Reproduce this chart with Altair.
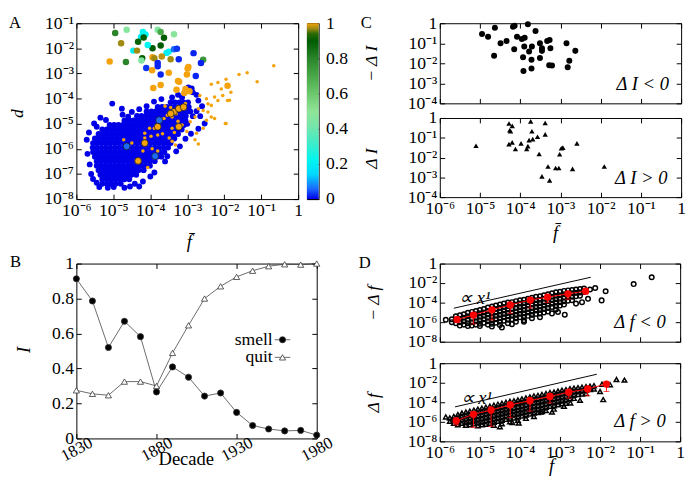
import altair as alt
import pandas as pd

FONT = "Liberation Serif"
SUPS = ['10⁻⁸', '10⁻⁷', '10⁻⁶', '10⁻⁵', '10⁻⁴', '10⁻³', '10⁻²', '10⁻¹', '1']
EXPR = "[" + ",".join("'%s'" % s for s in SUPS) + "][round(log(datum.value)/LN10)+8]"
XDEC = [1e-6, 1e-5, 1e-4, 1e-3, 1e-2, 1e-1, 1]
AY = [1e-8, 1e-7, 1e-6, 1e-5, 1e-4, 1e-3, 1e-2, 1e-1]
CY = [1e-4, 1e-3, 1e-2, 1e-1, 1]
DY = [1e-8, 1e-6, 1e-4, 1e-2, 1]

# ---------------- Panel A : log10(f-bar), log10(d) ----------------
A_core_rows = [
    (-4.15, [-3.45, -3.33, -3.21, -3.10, -2.98]),
    (-4.33, [-3.80, -3.68, -3.56, -3.45, -3.32, -3.20, -3.08, -2.96]),
    (-4.51, [-4.10, -3.97, -3.86, -3.74, -3.62, -3.50, -3.38, -3.26, -3.14, -3.02, -2.92]),
    (-4.69, [-4.36, -4.24, -4.12, -4.00, -3.88, -3.76, -3.64, -3.52, -3.40, -3.28, -3.16, -3.04]),
    (-4.87, [-4.70, -4.58, -4.46, -4.34, -4.22, -4.10, -3.98, -3.86, -3.74, -3.62, -3.50, -3.38, -3.26, -3.14, -3.05]),
    (-5.05, [-5.10, -4.98, -4.86, -4.74, -4.62, -4.50, -4.38, -4.26, -4.14, -4.02, -3.90, -3.78, -3.66, -3.54, -3.42, -3.30, -3.18, -3.09]),
    (-5.23, [-5.30, -5.18, -5.06, -4.94, -4.82, -4.70, -4.58, -4.46, -4.34, -4.22, -4.10, -3.98, -3.86, -3.74, -3.62, -3.50, -3.38, -3.26, -3.15]),
    (-5.41, [-5.40, -5.28, -5.16, -5.04, -4.92, -4.80, -4.68, -4.56, -4.44, -4.32, -4.20, -4.08, -3.96, -3.84, -3.72, -3.60, -3.48, -3.36, -3.25]),
    (-5.59, [-5.50, -5.38, -5.26, -5.14, -5.02, -4.90, -4.78, -4.66, -4.54, -4.42, -4.30, -4.18, -4.06, -3.94, -3.82, -3.70, -3.58, -3.46, -3.35]),
    (-5.77, [-5.55, -5.44, -5.32, -5.20, -5.08, -4.96, -4.84, -4.72, -4.60, -4.48, -4.36, -4.24, -4.12, -4.00, -3.88, -3.76, -3.64, -3.52, -3.45]),
    (-5.95, [-5.56, -5.44, -5.32, -5.20, -5.08, -4.96, -4.84, -4.72, -4.60, -4.48, -4.36, -4.24, -4.12, -4.00, -3.88, -3.76, -3.64, -3.52]),
    (-6.13, [-5.55, -5.43, -5.31, -5.19, -5.07, -4.95, -4.83, -4.71, -4.59, -4.47, -4.35, -4.23, -4.11, -3.99, -3.87, -3.75, -3.62]),
    (-6.31, [-5.50, -5.38, -5.26, -5.14, -5.02, -4.90, -4.78, -4.66, -4.54, -4.42, -4.30, -4.18, -4.06, -3.94, -3.82, -3.70]),
    (-6.49, [-5.45, -5.33, -5.21, -5.09, -4.97, -4.85, -4.73, -4.61, -4.49, -4.37, -4.25, -4.13, -4.01, -3.88]),
    (-6.67, [-5.45, -5.33, -5.21, -5.09, -4.97, -4.85, -4.73, -4.61, -4.49, -4.37, -4.25, -4.13, -4.01]),
    (-6.85, [-5.40, -5.28, -5.16, -5.04, -4.92, -4.80, -4.68, -4.56, -4.44, -4.32, -4.18]),
    (-7.03, [-5.35, -5.23, -5.11, -4.99, -4.87, -4.75, -4.63, -4.51, -4.38]),
    (-7.21, [-5.30, -5.18, -5.06, -4.94, -4.82, -4.70, -4.57]),
    (-7.39, [-5.30, -5.18, -5.06, -4.94, -4.80]),
]
A_halo = [(-5.72, -5.64), (-5.66, -5.35), (-5.70, -6.20), (-5.64, -6.62), (-5.60, -7.00), (-5.52, -4.99),
          (-5.45, -5.12), (-5.35, -4.76), (-5.20, -4.85), (-5.03, -4.20), (-4.77, -4.40), (-4.50, -4.53),
          (-4.75, -4.64), (-4.60, -4.72), (-4.30, -4.42), (-4.10, -4.30), (-3.90, -4.12), (-3.70, -4.02),
          (-3.41, -3.95), (-3.14, -3.95), (-2.97, -3.56), (-2.85, -3.75), (-2.75, -3.85), (-2.70, -4.08),
          (-2.60, -4.30), (-2.75, -4.50), (-2.85, -4.70), (-2.53, -4.99), (-2.70, -5.20), (-2.90, -5.40),
          (-3.05, -5.60), (-3.20, -5.90), (-3.30, -6.10), (-3.54, -6.29), (-3.60, -6.50), (-3.89, -6.94),
          (-4.00, -7.10), (-4.20, -7.30), (-4.42, -7.39), (-4.30, -7.50), (-4.55, -7.50), (-4.70, -7.55),
          (-4.99, -7.52), (-5.15, -7.55), (-5.38, -7.52), (-5.45, -7.35), (-5.55, -7.20), (-2.88, -3.60),
          (-3.25, -3.85), (-2.65, -4.70), (-3.00, -5.00)]
A_orange_small = [(-0.66, -2.69), (-1.11, -3.33), (-1.38, -2.97), (-1.60, -3.04), (-1.95, -3.23), (-2.17, -3.36),
                  (-1.82, -3.75), (-1.86, -4.07), (-2.08, -3.62), (-2.04, -3.88), (-2.35, -3.43), (-2.26, -3.94),
                  (-2.66, -3.88), (-2.48, -4.01), (-2.44, -4.21), (-2.35, -4.27), (-2.17, -4.08), (-1.91, -4.08),
                  (-2.70, -4.40), (-2.57, -4.47), (-2.44, -4.53), (-2.35, -4.73), (-2.26, -4.79), (-1.95, -4.99),
                  (-2.79, -4.73), (-2.75, -5.38), (-2.79, -5.64), (-2.70, -5.81), (-3.01, -5.31), (-3.14, -5.05),
                  (-2.92, -4.92), (-2.48, -4.86), (-2.57, -5.18), (-1.97, -4.99),
                  (-4.72, -5.64), (-4.50, -5.77), (-4.15, -5.38), (-4.02, -5.18), (-3.89, -5.18), (-3.76, -5.13),
                  (-3.63, -4.79), (-3.54, -4.66), (-3.41, -4.73), (-4.15, -5.57), (-3.98, -5.50), (-3.80, -5.45),
                  (-3.67, -5.40), (-3.49, -5.57), (-3.41, -5.70), (-3.32, -5.85), (-3.80, -6.09), (-4.20, -6.09),
                  (-3.95, -6.00), (-4.07, -6.74), (-3.41, -5.18), (-3.25, -4.90), (-3.30, -4.60), (-3.20, -4.45),
                  (-3.45, -4.35), (-3.60, -4.30), (-3.05, -4.20), (-3.35, -5.35)]
A_big = [(-4.95, -1.39, 0.80), (-4.64, -1.26, 0.47), (-4.20, -1.35, 0.22), (-4.13, -1.45, 0.22), (-4.25, -1.55, 0.20),
         (-3.80, -1.26, 0.45), (-3.72, -1.35, 0.70), (-3.36, -1.44, 0.48), (-4.79, -1.80, 0.97), (-4.33, -1.74, 0.88),
         (-4.18, -1.57, 0.90), (-3.63, -1.58, 0.90), (-3.94, -2.00, 0.90), (-3.72, -1.89, 0.90), (-4.07, -1.87, 0.22),
         (-4.46, -2.09, 0.20), (-4.36, -2.09, 0.97), (-3.50, -2.13, 0.22), (-3.56, -2.18, 0.20), (-3.36, -2.04, 0.06),
         (-3.28, -2.02, 0.03), (-4.22, -2.39, 0.90), (-4.24, -2.48, 0.45), (-3.94, -2.35, 1.00), (-3.89, -2.39, 0.97),
         (-3.69, -2.32, 0.98), (-3.45, -2.43, 0.97), (-3.23, -2.43, 0.02), (-2.83, -2.19, 0.02), (-2.57, -2.45, 0.75),
         (-2.63, -2.58, 0.02), (-5.10, -2.52, 1.00), (-4.66, -2.54, 0.80), (-4.11, -2.78, 0.03), (-3.80, -2.58, 0.02),
         (-3.80, -2.71, 0.02), (-3.95, -2.87, 1.00), (-3.72, -3.04, 0.02), (-3.50, -2.97, 1.00), (-2.97, -2.74, 1.00),
         (-2.99, -2.80, 1.00), (-3.01, -3.04, 1.00), (-2.77, -3.10, 0.02), (-3.25, -3.30, 1.00), (-3.22, -3.33, 1.00),
         (-3.72, -3.46, 1.00), (-3.92, -3.58, 1.00), (-3.29, -3.65, 1.00), (-3.05, -3.62, 1.00), (-3.08, -3.78, 1.00),
         (-2.94, -3.71, 1.00), (-1.91, -3.49, 1.00)]
A_ring = [(-3.36, -4.53, 1.0), (-3.23, -4.40, 1.0), (-3.10, -4.34, 1.0), (-3.45, -4.60, 1.0), (-3.80, -5.12, 1.0),
          (-3.23, -5.12, 1.0), (-4.15, -5.77, 1.0), (-4.33, -6.48, 1.0),
          (-4.64, -5.90, 0.06), (-3.76, -4.86, 0.06), (-3.87, -6.29, 0.06)]

CSTOPS = [0.0, 0.06, 0.14, 0.22, 0.32, 0.42, 0.5, 0.6, 0.7, 0.8, 0.9, 0.94, 0.97, 1.0]
CCOLS = ['#0000e8', '#1a6cff', '#00d8ff', '#00f5f0', '#40ecc8', '#78e6a8', '#90e498', '#6cc86c',
         '#48a848', '#2a842a', '#005c00', '#2a6a05', '#a08a10', '#f4a30c']
CB_LABELS = [0, 0.2, 0.4, 0.6, 0.8, 1]

# ---------------- Panel B ----------------
decades = [1830, 1840, 1850, 1860, 1870, 1880, 1890, 1900, 1910, 1920, 1930, 1940, 1950, 1960, 1970, 1980]
smell = [0.913, 0.786, 0.52, 0.67, 0.582, 0.266, 0.409, 0.35, 0.242, 0.26, 0.149, 0.074, 0.054, 0.043, 0.046, 0.019]
quit = [0.275, 0.255, 0.247, 0.325, 0.325, 0.30, 0.489, 0.647, 0.80, 0.87, 0.924, 0.959, 0.985, 0.996, 0.994, 1.0]
B_legend = [("smell", "circle", "black"), ("quit", "triangle-up", "white")]

# ---------------- Panel C : log10(f-bar), log10(|dI|) ----------------
C_neg = [(-4.95, -0.54), (-4.80, -0.67), (-4.63, -0.23), (-4.65, -1.62), (-4.49, -1.00), (-4.34, -0.89),
         (-4.18, -0.18), (-4.14, -0.13), (-4.15, -1.30), (-4.08, -0.67), (-3.96, -0.79), (-3.89, -0.72),
         (-3.93, -1.70), (-3.92, -2.39), (-3.90, -1.16), (-3.81, -0.05), (-3.78, -1.41), (-3.72, -1.82),
         (-3.71, -1.16), (-3.72, -2.26), (-3.62, -0.39), (-3.51, -1.74), (-3.51, -1.00), (-3.46, -1.25),
         (-3.46, -1.38), (-3.33, -0.89), (-3.27, -0.84), (-3.25, -1.25), (-3.28, -2.10), (-3.21, -2.11),
         (-2.85, -1.00), (-2.78, -1.87), (-2.82, -2.20), (-2.63, -1.38)]
C_pos = [(-5.10, -1.40), (-4.28, -0.28), (-4.20, -0.40), (-4.26, -0.62), (-4.24, -0.67), (-4.28, -1.32),
         (-4.20, -1.23), (-4.12, -1.57), (-3.98, -1.28), (-3.84, -1.57), (-3.81, -1.42), (-3.78, -1.12),
         (-3.74, -0.17), (-3.71, -0.67), (-3.69, -1.07), (-3.57, -0.95), (-3.53, -1.82), (-3.38, -0.25),
         (-3.38, -0.83), (-3.31, -2.45), (-3.46, -2.95), (-3.27, -3.15), (-3.12, -2.53), (-3.04, -2.53),
         (-3.02, -1.83), (-2.98, -1.53), (-2.94, -1.50), (-2.70, -2.57), (-2.59, -1.28), (-1.91, -2.45)]
C_notes = [("Δ I < 0", -0.30, -3.02), ("Δ I > 0", -0.34, -3.03)]

# ---------------- Panel D : log10(f-bar), log10(|df|) ----------------
D_neg_cols = [
    (-5.70, [-5.70, -6.00]), (-5.60, [-5.40, -5.75, -6.10]), (-5.50, [-5.30, -5.65, -6.00, -6.35]),
    (-5.40, [-5.20, -5.55, -5.90, -6.25]), (-5.30, [-5.05, -5.40, -5.75, -6.10, -6.40]),
    (-5.20, [-4.95, -5.30, -5.65, -6.00, -6.35]), (-5.10, [-4.85, -5.20, -5.55, -5.90, -6.25]),
    (-5.00, [-4.75, -5.10, -5.45, -5.80, -6.15, -6.40]), (-4.90, [-4.65, -5.00, -5.35, -5.70, -6.05]),
    (-4.80, [-4.50, -4.85, -5.20, -5.55, -5.90, -6.25]), (-4.70, [-4.40, -4.75, -5.10, -5.45, -5.80, -6.15]),
    (-4.60, [-4.30, -4.65, -5.00, -5.35, -5.70, -6.05]), (-4.50, [-4.20, -4.55, -4.90, -5.25, -5.60, -5.95, -6.30]),
    (-4.40, [-4.10, -4.45, -4.80, -5.15, -5.50, -5.85]), (-4.30, [-4.00, -4.35, -4.70, -5.05, -5.40, -5.75, -6.10]),
    (-4.20, [-3.95, -4.30, -4.65, -5.00, -5.35, -5.70]), (-4.10, [-3.85, -4.20, -4.55, -4.90, -5.25, -5.60, -5.95]),
    (-4.00, [-3.75, -4.10, -4.45, -4.80, -5.15, -5.50]), (-3.90, [-3.70, -4.05, -4.40, -4.75, -5.10, -5.45, -5.80]),
    (-3.80, [-3.60, -3.95, -4.30, -4.65, -5.00, -5.35]), (-3.70, [-3.50, -3.85, -4.20, -4.55, -4.90, -5.25, -5.60]),
    (-3.60, [-3.40, -3.75, -4.10, -4.45, -4.80, -5.15]), (-3.50, [-3.35, -3.70, -4.05, -4.40, -4.75, -5.10]),
    (-3.40, [-3.25, -3.60, -3.95, -4.30, -4.65, -5.00]), (-3.30, [-3.15, -3.50, -3.85, -4.20, -4.55, -4.90]),
    (-3.20, [-3.05, -3.40, -3.75, -4.10, -4.45]), (-3.10, [-2.95, -3.30, -3.65, -4.00, -4.35, -4.70]),
    (-3.00, [-2.90, -3.25, -3.60, -3.95, -4.30]), (-2.90, [-2.80, -3.15, -3.50, -3.85, -4.20]),
    (-2.80, [-2.75, -3.10, -3.45, -3.80]), (-2.70, [-2.70, -3.05, -3.40, -3.75]),
    (-2.60, [-2.65, -3.00, -3.35]), (-2.50, [-2.60, -2.95, -3.30]), (-2.40, [-2.55, -2.90]),
]
D_neg_out = [(-2.12, -2.50), (-1.86, -2.83), (-1.96, -3.77), (-2.88, -5.23), (-1.16, -2.10), (-0.71, -1.40),
             (-2.30, -3.60), (-3.20, -5.10), (-3.90, -5.95), (-4.20, -6.20), (-4.70, -6.45), (-3.50, -5.50),
             (-2.60, -4.10), (-5.85, -5.75), (-2.25, -2.65), (-2.45, -3.95), (-3.05, -4.95), (-4.45, -6.55)]
D_neg_mean = [(-5.57, -5.73), (-5.16, -5.27), (-4.70, -4.73), (-4.24, -4.23), (-3.74, -3.73), (-3.31, -3.43),
              (-2.80, -3.10), (-2.36, -2.83)]
D_neg_lo = [-6.00, -6.17, -5.77, -5.10, -4.55, -4.00, -3.65, -3.10]
D_neg_hi = [-5.45, -5.00, -4.50, -4.00, -3.50, -3.20, -2.90, -2.60]
D_neg_fit = [(-5.65, -4.57), (-2.23, -1.40)]

D_pos_cols = [
    (-5.75, [-5.60, -5.95]), (-5.65, [-5.45, -5.80, -6.15]), (-5.55, [-5.25, -5.60, -5.95, -6.30]),
    (-5.45, [-5.10, -5.45, -5.80, -6.15]), (-5.35, [-5.00, -5.35, -5.70, -6.05, -6.35]),
    (-5.25, [-4.90, -5.25, -5.60, -5.95, -6.30]), (-5.15, [-4.80, -5.15, -5.50, -5.85, -6.20]),
    (-5.05, [-4.70, -5.05, -5.40, -5.75, -6.10, -6.40]), (-4.95, [-4.60, -4.95, -5.30, -5.65, -6.00, -6.30]),
    (-4.85, [-4.50, -4.85, -5.20, -5.55, -5.90, -6.25]), (-4.75, [-4.40, -4.75, -5.10, -5.45, -5.80, -6.15]),
    (-4.65, [-4.30, -4.65, -5.00, -5.35, -5.70, -6.05, -6.35]), (-4.55, [-4.20, -4.55, -4.90, -5.25, -5.60, -5.95]),
    (-4.45, [-4.10, -4.45, -4.80, -5.15, -5.50, -5.85, -6.20]), (-4.35, [-4.00, -4.35, -4.70, -5.05, -5.40, -5.75]),
    (-4.25, [-3.90, -4.25, -4.60, -4.95, -5.30, -5.65, -6.00]), (-4.15, [-3.85, -4.20, -4.55, -4.90, -5.25, -5.60]),
    (-4.05, [-3.75, -4.10, -4.45, -4.80, -5.15, -5.50, -5.85]), (-3.95, [-3.65, -4.00, -4.35, -4.70, -5.05, -5.40]),
    (-3.85, [-3.55, -3.90, -4.25, -4.60, -4.95, -5.30, -5.65]), (-3.75, [-3.45, -3.80, -4.15, -4.50, -4.85, -5.20]),
    (-3.65, [-3.35, -3.70, -4.05, -4.40, -4.75, -5.10, -5.45]), (-3.55, [-3.30, -3.65, -4.00, -4.35, -4.70, -5.05]),
    (-3.45, [-3.20, -3.55, -3.90, -4.25, -4.60, -4.95]), (-3.35, [-3.10, -3.45, -3.80, -4.15, -4.50, -4.85]),
    (-3.25, [-3.00, -3.35, -3.70, -4.05, -4.40]), (-3.15, [-2.95, -3.30, -3.65, -4.00, -4.35, -4.70]),
    (-3.05, [-2.85, -3.20, -3.55, -3.90, -4.25]), (-2.95, [-2.75, -3.10, -3.45, -3.80, -4.15]),
    (-2.85, [-2.70, -3.05, -3.40, -3.75, -4.10]), (-2.75, [-2.60, -2.95, -3.30, -3.65]),
    (-2.65, [-2.55, -2.90, -3.25, -3.60]), (-2.55, [-2.50, -2.85, -3.20]), (-2.45, [-2.45, -2.80, -3.15]),
    (-2.35, [-2.40, -2.75, -3.10]), (-2.25, [-2.35, -2.70]), (-2.15, [-2.30, -2.65]),
]
D_pos_out = [(-1.39, -1.73), (-1.59, -1.67), (-1.92, -3.73), (-2.74, -4.07), (-2.90, -4.40), (-3.48, -5.00),
             (-4.03, -6.13), (-4.19, -6.07), (-1.75, -2.20), (-2.00, -2.90), (-2.50, -3.80), (-3.20, -5.00),
             (-4.50, -6.50), (-5.85, -5.50), (-1.95, -2.15)]
D_pos_mean = [(-5.59, -5.90), (-5.16, -5.23), (-4.72, -4.80), (-4.24, -4.27), (-3.75, -3.83), (-3.25, -3.40),
              (-2.78, -2.97), (-2.31, -2.63), (-1.84, -2.13)]
D_pos_lo = [-6.33, -6.57, -6.47, -5.57, -4.90, -4.07, -3.57, -3.33, -2.90]
D_pos_hi = [-5.60, -4.95, -4.50, -4.00, -3.55, -3.15, -2.75, -2.40, -1.90]
D_pos_fit = [(-5.62, -4.47), (-2.08, -1.13)]
D_notes = [("∝ x¹", -5.52, -3.50, "Δ f < 0", -0.36, -6.00), ("∝ x¹", -5.48, -3.57, "Δ f > 0", -0.36, -5.90)]


# ---------------- helpers ----------------
def pairs_df(pairs, cols=('lx', 'ly')):
    d = pd.DataFrame(pairs, columns=list(cols))
    d['f'] = 10 ** d['lx']
    d['y'] = 10 ** d['ly']
    return d


def note_df(t, lx, ly):
    return pd.DataFrame({'t': [t], 'f': [10 ** lx], 'y': [10 ** ly]})


def main_axis(values, labels=True, title=None, tx=None, ty=None, size=18):
    kw = dict(values=values, labels=labels, labelExpr=EXPR)
    if title is None:
        kw['title'] = None
    else:
        kw.update(title=title, titleX=tx, titleY=ty, titleAlign='center', titleBaseline='middle',
                  titleFontStyle='italic', titleFontSize=size)
    return alt.Axis(**kw)


def mirror_axis(orient, values):
    return alt.Axis(orient=orient, values=values, labels=False, title=None)


XS = alt.Scale(type='log', domain=[1e-6, 1], nice=False)


def logscale(lo, hi):
    return alt.Scale(type='log', domain=[lo, hi], nice=False)


def text_px(t, x, y, size=17, color='black', style='normal', align='left', baseline='top'):
    return alt.Chart(pd.DataFrame({'t': [t]})).mark_text(
        text=t, align=align, baseline=baseline, font=FONT, fontSize=size, color=color, fontStyle=style
    ).encode(x=alt.value(x), y=alt.value(y))


def anchor(x, y):
    # tiny white square fixing the top-left extent of a panel so that all panels line up
    return alt.Chart(pd.DataFrame({'t': [0]})).mark_square(size=1, color='white', opacity=1).encode(
        x=alt.value(x + 0.5), y=alt.value(y + 0.5))


# ---------------- Panel A ----------------
core = [(lx, ly) for ly, xs in A_core_rows for lx in xs]
dA_blue = pairs_df(core + A_halo); dA_blue['v'] = 0.0
dA_os = pairs_df(A_orange_small); dA_os['v'] = 1.0
dA_big = pairs_df(A_big, ('lx', 'ly', 'v'))
dA_ring = pairs_df(A_ring, ('lx', 'ly', 'v'))

cscale = alt.Scale(domain=CSTOPS, range=CCOLS, interpolate='rgb')
YSA = logscale(1e-8, 1e-1)
colA = alt.Color('v:Q', scale=cscale, legend=None)
xA0 = alt.X('f:Q', scale=XS, axis=main_axis(XDEC, True, 'f\u0304', 115, 49, 19))
yA0 = alt.Y('y:Q', scale=YSA, axis=main_axis(AY, True, 'd', -65, 92))
xAn = alt.X('f:Q', scale=XS, axis=None)
yAn = alt.Y('y:Q', scale=YSA, axis=None)

A = alt.layer(
    alt.Chart(dA_blue).mark_circle(size=36, opacity=1).encode(x=xA0, y=yA0, color=colA),
    alt.Chart(dA_os).mark_circle(size=13, opacity=1).encode(x=xAn, y=yAn, color=colA),
    alt.Chart(dA_big).mark_circle(size=44, opacity=1).encode(x=xAn, y=yAn, color=colA),
    alt.Chart(dA_ring).mark_circle(size=48, opacity=1, stroke='#222', strokeWidth=0.8).encode(x=xAn, y=yAn, color=colA),
    alt.Chart(dA_ring).mark_point(opacity=0).encode(
        x=alt.X('f:Q', scale=XS, axis=mirror_axis('top', XDEC)),
        y=alt.Y('y:Q', scale=YSA, axis=mirror_axis('right', AY))),
    anchor(-69, -9),
    text_px('A', -69, -8),
).resolve_axis(x='independent', y='independent').properties(width=227, height=180)

CB = alt.Chart(pd.DataFrame({'lo': [0.0], 'hi': [1.0]})).mark_rect(
    color=alt.Gradient(gradient='linear', x1=0, x2=0, y1=1, y2=0,
                       stops=[alt.GradientStop(offset=o, color=c) for o, c in zip(CSTOPS, CCOLS)])
).encode(
    y=alt.Y('lo:Q', scale=alt.Scale(domain=[0, 1], nice=False),
            axis=alt.Axis(orient='right', values=CB_LABELS, format='~g', offset=-12, tickSize=12,
                          labelPadding=7, labelFontSize=18, title=None)),
    y2='hi:Q', x=alt.value(0), x2=alt.value(12)
).properties(width=12, height=180)

# ---------------- Panel B ----------------
dB = pd.DataFrame({'year': decades * 2, 'I': smell + quit, 'series': ['smell'] * 16 + ['quit'] * 16})
XSB = alt.Scale(domain=[1830, 1980], nice=False)
YSB = alt.Scale(domain=[0, 1], nice=False)
xB0 = alt.X('year:Q', scale=XSB,
            axis=alt.Axis(values=[1830, 1880, 1930, 1980], format='d', labelAngle=-28, labelAlign='center',
                          labelBaseline='middle', labelPadding=11, labelFontSize=17, title='Decade', titleX=112,
                          titleY=26, titleAlign='center', titleBaseline='middle', titleFontSize=19))
yB0 = alt.Y('I:Q', scale=YSB,
            axis=alt.Axis(values=[0, 0.2, 0.4, 0.6, 0.8, 1], format='~g', labelFontSize=18, title='I',
                          titleX=-59, titleY=88, titleAlign='center', titleBaseline='middle',
                          titleFontStyle='italic', titleFontSize=19))
xBn = alt.X('year:Q', scale=XSB, axis=None)
yBn = alt.Y('I:Q', scale=YSB, axis=None)
shapeB = alt.Shape('series:N', scale=alt.Scale(domain=['smell', 'quit'], range=['circle', 'triangle-up']), legend=None)
fillB = alt.Fill('series:N', scale=alt.Scale(domain=['smell', 'quit'], range=['black', 'white']), legend=None)

leg_layers = []
for i, (lab, shp, fil) in enumerate(B_legend):
    yy = 78 + 18 * i
    leg_layers.append(text_px(lab, 201, yy, 18, align='right', baseline='middle'))
    leg_layers.append(alt.Chart(pd.DataFrame({'t': [lab]})).mark_rule(color='#444', strokeWidth=0.8).encode(
        x=alt.value(203), x2=alt.value(219), y=alt.value(yy)))
    leg_layers.append(alt.Chart(pd.DataFrame({'t': [lab]})).mark_point(
        shape=shp, filled=True, fill=fil, size=40, stroke='#333', strokeWidth=0.8, opacity=1).encode(
        x=alt.value(211), y=alt.value(yy)))

B = alt.layer(
    alt.Chart(dB).mark_line(color='#444', strokeWidth=0.8).encode(x=xB0, y=yB0, detail='series:N'),
    alt.Chart(dB).mark_point(filled=True, size=40, stroke='#333', strokeWidth=0.8, opacity=1).encode(
        x=xBn, y=yBn, shape=shapeB, fill=fillB),
    alt.Chart(dB).mark_point(opacity=0).encode(
        x=alt.X('year:Q', scale=XSB, axis=alt.Axis(orient='top', values=[1830, 1880, 1930, 1980], labels=False, title=None)),
        y=alt.Y('I:Q', scale=YSB, axis=alt.Axis(orient='right', values=[0, 0.2, 0.4, 0.6, 0.8, 1], labels=False, title=None))),
    *leg_layers,
    anchor(-68, -10),
    text_px('B', -68, -9),
).resolve_axis(x='independent', y='independent').properties(width=246, height=179)


# ---------------- Panel C ----------------
def c_panel(pts, shape, size, ytitle, note, xlabels, anchor_y, letter=None, xtitle=None):
    ys = logscale(1e-4, 1)
    x0 = alt.X('f:Q', scale=XS, axis=main_axis(XDEC, xlabels, xtitle, 118, 41, 19))
    y0 = alt.Y('y:Q', scale=ys, axis=main_axis(CY, True, ytitle, -75, 41))
    xn = alt.X('f:Q', scale=XS, axis=None)
    yn = alt.Y('y:Q', scale=ys, axis=None)
    dpts = pairs_df(pts)
    layers = [
        alt.Chart(dpts).mark_point(shape=shape, filled=True, size=size, color='black', opacity=1).encode(x=x0, y=y0),
        alt.Chart(dpts).mark_point(opacity=0).encode(
            x=alt.X('f:Q', scale=XS, axis=mirror_axis('top', XDEC)),
            y=alt.Y('y:Q', scale=ys, axis=mirror_axis('right', CY))),
        alt.Chart(note_df(*note)).mark_text(align='right', baseline='middle', font=FONT, fontSize=19,
                                            fontStyle='italic').encode(x=xn, y=yn, text='t:N'),
        anchor(-81, anchor_y),
    ]
    if letter:
        layers.append(text_px(letter, -81, -8))
    return alt.layer(*layers).resolve_axis(x='independent', y='independent')


C1 = c_panel(C_neg, 'circle', 38, '− Δ I', C_notes[0], False, -9, 'C').properties(width=247, height=82)
C2 = c_panel(C_pos, 'triangle-up', 30, 'Δ I', C_notes[1], True, -9, None, 'f\u0304').properties(width=247, height=81)


# ---------------- Panel D ----------------
def d_panel(cols, out, mean, lo, hi, fit, notes, shape, ytitle, xlabels, anchor_y, letter=None, xtitle=None):
    ys = logscale(1e-8, 1)
    x0 = alt.X('f:Q', scale=XS, axis=main_axis(XDEC, xlabels, xtitle, 114, 30, 19))
    y0 = alt.Y('y:Q', scale=ys, axis=main_axis(DY, True, ytitle, -73, 40))
    xn = alt.X('f:Q', scale=XS, axis=None)
    yn = alt.Y('y:Q', scale=ys, axis=None)
    cloud = pairs_df([(lx, ly) for lx, lys in cols for ly in lys] + out)
    dm = pairs_df(mean)
    de = pd.DataFrame({'f': [10 ** m[0] for m in mean], 'y': [10 ** v for v in lo], 'y2': [10 ** v for v in hi]})
    dcap = pd.DataFrame({'f': [10 ** m[0] for m in mean] * 2, 'y': [10 ** v for v in lo] + [10 ** v for v in hi]})
    dfit = pairs_df(fit)
    layers = [
        alt.Chart(cloud).mark_point(shape=shape, filled=False, size=22, strokeWidth=1.5, color='black', opacity=1).encode(x=x0, y=y0),
        alt.Chart(cloud).mark_point(opacity=0).encode(
            x=alt.X('f:Q', scale=XS, axis=mirror_axis('top', XDEC)),
            y=alt.Y('y:Q', scale=ys, axis=mirror_axis('right', DY))),
        alt.Chart(dfit).mark_line(color='black', strokeWidth=1).encode(x=xn, y=yn),
        alt.Chart(de).mark_rule(color='#ff0000', strokeWidth=1).encode(x=xn, y=yn, y2='y2:Q'),
        alt.Chart(dcap).mark_tick(color='#ff0000', orient='horizontal', size=6, thickness=1).encode(x=xn, y=yn),
        alt.Chart(dm).mark_line(color='#ff0000', strokeWidth=1).encode(x=xn, y=yn),
        alt.Chart(dm).mark_circle(color='#ff0000', size=55, opacity=1).encode(x=xn, y=yn),
        alt.Chart(note_df(notes[0], notes[1], notes[2])).mark_text(align='left', baseline='middle', font=FONT,
                                                                   fontSize=19, fontStyle='italic').encode(x=xn, y=yn, text='t:N'),
        alt.Chart(note_df(notes[3], notes[4], notes[5])).mark_text(align='right', baseline='middle', font=FONT,
                                                                   fontSize=19, fontStyle='italic').encode(x=xn, y=yn, text='t:N'),
        anchor(-83, anchor_y),
    ]
    if letter:
        layers.append(text_px(letter, -83, -8))
    return alt.layer(*layers).resolve_axis(x='independent', y='independent')


D1 = d_panel(D_neg_cols, D_neg_out, D_neg_mean, D_neg_lo, D_neg_hi, D_neg_fit, D_notes[0], 'circle',
             '− Δ f', False, -10, 'D').properties(width=246, height=80)
D2 = d_panel(D_pos_cols, D_pos_out, D_pos_mean, D_pos_lo, D_pos_hi, D_pos_fit, D_notes[1], 'triangle-up',
             'Δ f', True, -9, None, 'f\u0304').properties(width=246, height=80)

# ---------------- layout ----------------
rowA = alt.hconcat(A, CB, spacing=3)
left = alt.vconcat(rowA, B, spacing=0)
right = alt.vconcat(alt.vconcat(C1, C2, spacing=-5), alt.vconcat(D1, D2, spacing=2), spacing=10)
chart = alt.hconcat(left, right, spacing=10).properties(padding=0).configure(font=FONT).configure_axis(
    labelFont=FONT, labelFontSize=18, labelColor='black', titleFont=FONT, titleFontWeight='normal',
    titleColor='black', tickColor='black', tickSize=5, domain=False, grid=False, offset=-5,
    labelFlush=False, labelOverlap=False, labelPadding=3
).configure_view(stroke='black', strokeWidth=1)

chart.save("out.html", embed_options={"renderer": "svg", "actions": False})
